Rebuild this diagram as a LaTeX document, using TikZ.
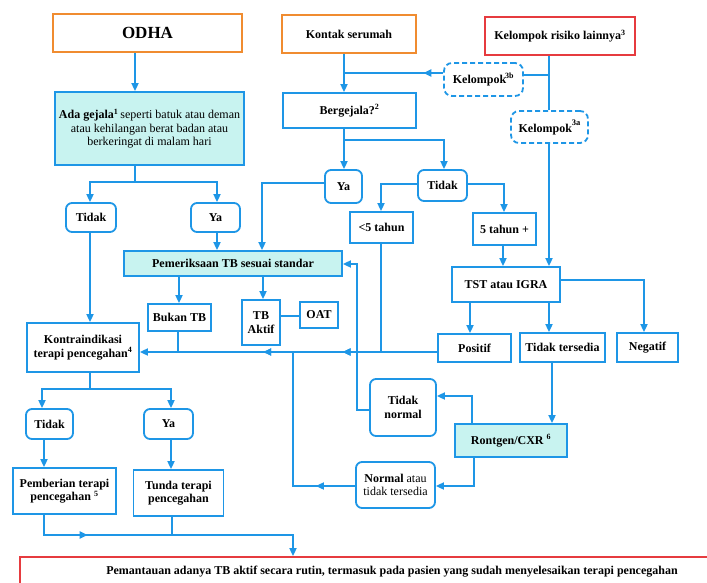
\documentclass[tikz,border=0pt]{standalone}
\usepackage{fontspec}
\setmainfont{Liberation Serif}
\usetikzlibrary{arrows.meta,decorations.markings}
\definecolor{fblue}{HTML}{1E96E6}
\definecolor{fcyan}{HTML}{C8F3F0}
\definecolor{forange}{HTML}{F08C30}
\definecolor{fred}{HTML}{E63B3F}
\tikzset{
  box/.style={draw=fblue, line width=1.8pt, fill=white, inner sep=1pt, align=center,
    font=\fontsize{12}{13.5}\selectfont\bfseries},
  cbox/.style={box, fill=fcyan},
  rbox/.style={box, rounded corners=6pt},
  dbox/.style={box, rounded corners=8pt, dash pattern=on 5pt off 3pt},
  obox/.style={box, draw=forange},
  redbox/.style={box, draw=fred},
  conn/.style={draw=fblue, line width=1.8pt},
  arr/.style={conn, -{Triangle[length=8pt,width=7pt]}},
  midarrow/.style={postaction={decorate},
    decoration={markings, mark=at position #1 with {\arrow{Triangle[length=8pt,width=7pt]}}}},
}
\newcommand{\bx}[6]{\node[#1, minimum width=#4pt, minimum height=#5pt] (#2) at (#3) {#6};}
\begin{document}
\begin{tikzpicture}[x=1pt,y=-1pt]
\useasboundingbox (0,0) rectangle (707,583);
\clip (0,0) rectangle (707,583);
% top
\bx{obox}{odha}{147.5,33}{189}{38}{\fontsize{17}{19}\selectfont ODHA}
\bx{obox}{kontak}{349,34}{134}{38}{Kontak serumah}
\bx{redbox}{risiko}{560,36}{150}{38}{Kelompok risiko lainnya\textsuperscript{3}}
\bx{cbox}{ada}{149.5,128.5}{189}{73}{\textbf{Ada gejala\textsuperscript{1}}\,{\normalfont seperti batuk atau deman}\\{\normalfont atau kehilangan berat badan atau}\\{\normalfont berkeringat di malam hari}}
\bx{dbox}{k3b}{483.5,79.5}{79}{33}{Kelompok\textsuperscript{\kern-1pt 3b}}
\bx{dbox}{k3a}{549.5,127}{77}{32}{Kelompok\raisebox{7pt}{\fontsize{8.5}{9}\selectfont 3a}}
\bx{box}{berg}{349.5,110.5}{133}{35}{Bergejala?\textsuperscript{2}}
\bx{rbox}{yaR}{343.5,186.5}{37}{33}{Ya}
\bx{rbox}{tidakR}{442.5,185.5}{49}{31}{Tidak}
\bx{box}{lt5}{381.5,227.5}{63}{31}{<5 tahun}
\bx{box}{t5}{504.5,229}{63}{32}{5 tahun +}
\bx{box}{tst}{506,284.5}{108}{35}{TST atau IGRA}
\bx{box}{pos}{474.5,348}{73}{28}{Positif}
\bx{box}{tts}{562.5,347.5}{85}{29}{Tidak tersedia}
\bx{box}{neg}{647.5,347.5}{61}{29}{Negatif}
% left
\bx{rbox}{tidakL}{91,217.5}{50}{29}{Tidak}
\bx{rbox}{yaL}{215.5,217.5}{49}{29}{Ya}
\bx{cbox}{pem}{233,263.5}{218}{25}{Pemeriksaan TB sesuai standar}
\bx{box}{bukan}{179.5,317.5}{63}{27}{Bukan TB}
\bx{box}{tbak}{261,322.5}{38}{45}{TB\\Aktif}
\bx{box}{oat}{319,315}{38}{26}{OAT}
\bx{box}{kontra}{83,347.5}{112}{49}{Kontraindikasi\\terapi pencegahan\textsuperscript{4}}
\bx{rbox}{tidakB}{49.5,424}{47}{30}{Tidak}
\bx{rbox}{yaB}{168.5,424}{49}{30}{Ya}
\bx{box}{pember}{64.5,491}{103}{46}{Pemberian terapi\\pencegahan \textsuperscript{5}}
\bx{box}{tunda}{178.5,493}{90}{46}{Tunda terapi\\pencegahan}
\bx{rbox}{tnorm}{403,407.5}{66}{57}{Tidak\\normal}
\bx{cbox}{rontgen}{511,440.5}{112}{33}{Rontgen/CXR \textsuperscript{6}}
\bx{rbox}{normal}{395.5,485}{79}{46}{Normal {\normalfont atau}\\{\normalfont tidak tersedia}}
\bx{redbox}{monitor}{392,572}{744}{30}{Pemantauan adanya TB aktif secara rutin, termasuk pada pasien yang sudah menyelesaikan terapi pencegahan}
% junctions
\coordinate (jA) at (135,182);
\coordinate (jB) at (549,75);
\coordinate (jK) at (344,73);
\coordinate (jC) at (344,140);
\coordinate (jD) at (90,389);
\coordinate (jE) at (293,352);
\coordinate (jF) at (172,535);
% connectors
\draw[arr] (odha.south -| 135,0) -- (ada.north -| 135,0);
\draw[conn] (ada.south -| 135,0) -- (jA);
\draw[arr] (jA) -| (tidakL.north -| 90,0);
\draw[arr] (jA) -| (yaL.north -| 217,0);
\draw[arr] (tidakL.south -| 90,0) -- (kontra.north -| 90,0);
\draw[arr] (yaL.south -| 217,0) -- (pem.north -| 217,0);
\draw[arr] (kontak.south -| 344,0) -- (berg.north -| 344,0);
\draw[conn, midarrow=0.2] (k3b.west |- jK) -- (jK);
\draw[conn] (risiko.south -| 549,0) -- (k3a.north -| 549,0);
\draw[conn] (jB) -- (k3b.east |- jB);
\draw[arr] (k3a.south -| 549,0) -- (tst.north -| 549,0);
\draw[conn] (berg.south -| 344,0) -- (jC);
\draw[arr] (jC) -- (yaR.north -| 344,0);
\draw[arr] (jC) -| (tidakR.north -| 444,0);
\draw[arr] (yaR.west |- 0,183) -| (pem.north -| 262,0);
\draw[arr] (tidakR.west |- 0,184) -| (lt5.north -| 381,0);
\draw[arr] (tidakR.east |- 0,184) -| (t5.north -| 504,0);
\draw[arr] (t5.south -| 503,0) -- (tst.north -| 503,0);
\draw[arr] (tst.south -| 470,0) -- (pos.north -| 470,0);
\draw[arr] (tst.south -| 549,0) -- (tts.north -| 549,0);
\draw[arr] (tst.east |- 0,280) -| (neg.north -| 644,0);
\draw[arr] (pem.south -| 179,0) -- (bukan.north -| 179,0);
\draw[arr] (pem.south -| 263,0) -- (tbak.north -| 263,0);
\draw[conn] (tbak.east |- 0,316) -- (oat.west |- 0,316);
\draw[arr, midarrow=0.318, midarrow=0.585] (pos.west |- 0,352) -- (kontra.east |- 0,352);
\draw[conn] (lt5.south -| 381,0) -- (381,352);
\draw[conn] (bukan.south -| 178,0) -- (178,352);
\draw[conn, midarrow=0.2] (normal.west |- 0,486) -- (jE |- 0,486) -- (jE);
\draw[arr] (tts.south -| 552,0) -- (rontgen.north -| 552,0);
\draw[arr] (rontgen.north -| 472,0) |- (tnorm.east |- 0,396);
\draw[arr] (rontgen.south -| 474,0) |- (normal.east |- 0,486);
\draw[arr] (tnorm.west |- 0,410) -| (357,264) -- (pem.east |- 0,264);
\draw[conn] (kontra.south -| 90,0) -- (jD);
\draw[arr] (jD) -| (tidakB.north -| 42,0);
\draw[arr] (jD) -| (yaB.north -| 171,0);
\draw[arr] (tidakB.south -| 44,0) -- (pember.north -| 44,0);
\draw[arr] (yaB.south -| 171,0) -- (tunda.north -| 171,0);
\draw[arr, midarrow=0.22] (pember.south -| 44,0) |- (293,535) -- (monitor.north -| 293,0);
\draw[conn] (tunda.south -| 172,0) -- (jF);
\end{tikzpicture}
\end{document}
